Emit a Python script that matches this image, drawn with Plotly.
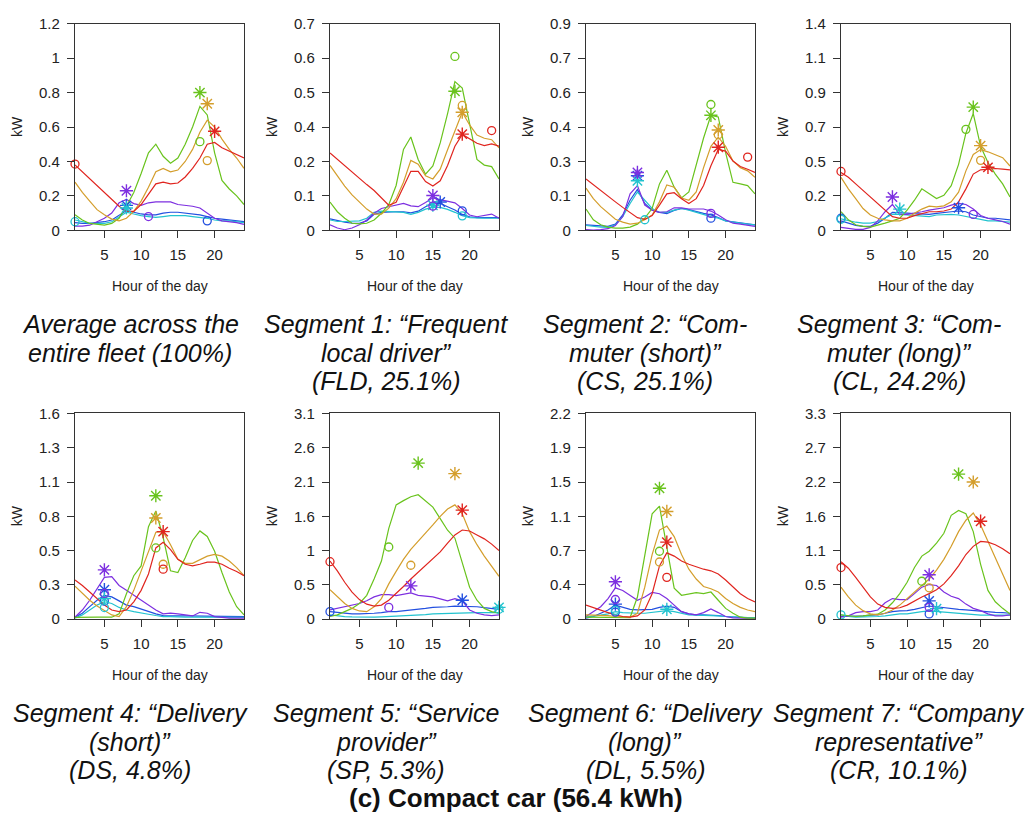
import plotly.graph_objects as go

W, H = 1031, 823
HOURS = list(range(1, 25))
SERIES = ["blue", "cyan", "purple", "green", "orange", "red"]
COLORS = {"blue": "#2350e0", "cyan": "#22c3cf", "purple": "#7d2fe0",
          "green": "#69c31d", "orange": "#d49e2c", "red": "#e0251f"}

# ---------------- data (kW per hour 1..24) ----------------
# Panel 1: fleet average
fleet_blue = [0.045,0.04,0.04,0.045,0.05,0.06,0.09,0.115,0.105,0.095,0.09,0.09,0.10,0.105,0.105,0.10,0.095,0.09,0.08,0.07,0.065,0.06,0.055,0.05]
fleet_cyan = [0.06,0.05,0.04,0.04,0.04,0.05,0.08,0.105,0.095,0.085,0.08,0.075,0.08,0.085,0.085,0.085,0.08,0.075,0.07,0.06,0.055,0.055,0.05,0.045]
fleet_purple = [0.025,0.025,0.03,0.05,0.07,0.10,0.16,0.18,0.155,0.145,0.16,0.165,0.165,0.165,0.15,0.145,0.14,0.13,0.10,0.07,0.055,0.05,0.045,0.035]
fleet_green = [0.09,0.06,0.04,0.035,0.03,0.04,0.07,0.14,0.22,0.33,0.45,0.50,0.43,0.39,0.42,0.50,0.60,0.72,0.67,0.45,0.29,0.24,0.20,0.15]
fleet_orange = [0.28,0.22,0.17,0.12,0.09,0.065,0.055,0.07,0.11,0.17,0.25,0.34,0.36,0.34,0.35,0.40,0.47,0.57,0.64,0.60,0.53,0.47,0.42,0.36]
fleet_red = [0.38,0.34,0.30,0.26,0.22,0.18,0.14,0.11,0.11,0.15,0.21,0.27,0.28,0.27,0.275,0.31,0.36,0.42,0.50,0.51,0.48,0.46,0.44,0.42]
fleet_circle_hour = [19, 1, 11, 18, 19, 1]
fleet_circle_kw = [0.055, 0.05, 0.08, 0.515, 0.405, 0.385]
fleet_star_hour = [8, 8, 8, 18, 19, 20]
fleet_star_kw = [0.145, 0.13, 0.23, 0.80, 0.735, 0.575]

# Panel 2: FLD
fld_blue = [0.039,0.033,0.028,0.024,0.024,0.032,0.054,0.061,0.063,0.063,0.063,0.059,0.065,0.08,0.091,0.091,0.08,0.069,0.054,0.046,0.043,0.043,0.043,0.043]
fld_cyan = [0.035,0.03,0.03,0.03,0.032,0.041,0.061,0.065,0.063,0.063,0.061,0.054,0.061,0.072,0.078,0.078,0.071,0.061,0.05,0.043,0.041,0.041,0.041,0.041]
fld_purple = [0.019,0.008,0.002,0.008,0.019,0.035,0.058,0.074,0.08,0.085,0.091,0.083,0.08,0.094,0.11,0.104,0.099,0.093,0.074,0.052,0.046,0.05,0.055,0.041]
fld_green = [0.096,0.063,0.041,0.024,0.022,0.024,0.035,0.058,0.087,0.152,0.274,0.316,0.24,0.19,0.218,0.296,0.395,0.504,0.482,0.362,0.24,0.221,0.216,0.174]
fld_orange = [0.22,0.185,0.15,0.12,0.095,0.072,0.055,0.055,0.075,0.107,0.163,0.237,0.224,0.185,0.174,0.207,0.273,0.34,0.40,0.357,0.323,0.312,0.307,0.279]
fld_red = [0.262,0.24,0.218,0.196,0.175,0.155,0.135,0.11,0.085,0.095,0.145,0.2,0.2,0.165,0.15,0.168,0.22,0.285,0.325,0.31,0.295,0.287,0.293,0.285]
fld_circle_hour = [19, 19, 15, 18, 19, 23]
fld_circle_kw = [0.066, 0.049, 0.082, 0.589, 0.423, 0.338]
fld_star_hour = [16, 15, 15, 18, 19, 19]
fld_star_kw = [0.096, 0.085, 0.118, 0.471, 0.40, 0.326]

# Panel 3: CS
cs_blue = [0.024,0.021,0.017,0.017,0.027,0.067,0.131,0.178,0.117,0.088,0.078,0.073,0.087,0.095,0.09,0.081,0.074,0.067,0.056,0.041,0.036,0.031,0.028,0.024]
cs_cyan = [0.021,0.017,0.014,0.013,0.024,0.06,0.117,0.167,0.131,0.095,0.078,0.078,0.088,0.095,0.088,0.078,0.07,0.06,0.053,0.041,0.036,0.03,0.027,0.024]
cs_purple = [0.003,0.001,0.003,0.007,0.021,0.06,0.159,0.195,0.11,0.088,0.078,0.081,0.098,0.098,0.093,0.093,0.093,0.084,0.067,0.046,0.031,0.027,0.021,0.017]
cs_green = [0.093,0.046,0.024,0.014,0.01,0.01,0.014,0.027,0.053,0.095,0.202,0.262,0.188,0.141,0.167,0.281,0.402,0.501,0.494,0.338,0.209,0.202,0.195,0.159]
cs_orange = [0.184,0.138,0.103,0.074,0.048,0.036,0.027,0.031,0.046,0.067,0.124,0.198,0.188,0.141,0.131,0.167,0.273,0.366,0.406,0.366,0.302,0.273,0.259,0.231]
cs_red = [0.224,0.198,0.173,0.148,0.124,0.1,0.076,0.055,0.048,0.064,0.11,0.159,0.164,0.138,0.117,0.138,0.195,0.281,0.352,0.345,0.302,0.278,0.266,0.252]
cs_circle_hour = [18, 9, 18, 18, 19, 23]
cs_circle_kw = [0.053, 0.046, 0.074, 0.548, 0.416, 0.319]
cs_star_hour = [8, 8, 8, 18, 19, 19]
cs_star_kw = [0.238, 0.216, 0.252, 0.501, 0.437, 0.362]

# Panel 4: CL
cl_blue = [0.064,0.049,0.034,0.027,0.027,0.049,0.082,0.122,0.117,0.117,0.113,0.108,0.108,0.115,0.122,0.126,0.131,0.126,0.104,0.091,0.082,0.082,0.078,0.071]
cl_cyan = [0.078,0.064,0.055,0.049,0.049,0.06,0.082,0.108,0.108,0.104,0.1,0.093,0.093,0.104,0.108,0.108,0.104,0.093,0.082,0.071,0.064,0.064,0.06,0.055]
cl_purple = [0.02,0.011,0.007,0.007,0.02,0.064,0.126,0.175,0.108,0.108,0.115,0.126,0.137,0.144,0.153,0.171,0.182,0.175,0.144,0.1,0.082,0.071,0.06,0.042]
cl_green = [0.126,0.071,0.038,0.027,0.022,0.033,0.049,0.064,0.082,0.137,0.204,0.281,0.248,0.215,0.237,0.303,0.447,0.658,0.791,0.569,0.459,0.381,0.315,0.226]
cl_orange = [0.359,0.281,0.215,0.148,0.104,0.082,0.071,0.064,0.064,0.082,0.115,0.144,0.164,0.159,0.166,0.193,0.259,0.403,0.514,0.547,0.532,0.514,0.492,0.436]
cl_red = [0.392,0.359,0.315,0.27,0.226,0.182,0.137,0.093,0.082,0.082,0.1,0.115,0.126,0.126,0.131,0.144,0.193,0.281,0.381,0.41,0.414,0.419,0.414,0.41]
cl_circle_hour = [1, 1, 19, 18, 20, 1]
cl_circle_kw = [0.082, 0.075, 0.108, 0.684, 0.474, 0.399]
cl_star_hour = [17, 9, 8, 19, 20, 21]
cl_star_kw = [0.153, 0.144, 0.226, 0.835, 0.574, 0.427]

# Panel 5: DS
ds_blue = [0.015,0.046,0.097,0.147,0.185,0.173,0.142,0.109,0.097,0.079,0.058,0.041,0.028,0.025,0.025,0.025,0.025,0.025,0.02,0.02,0.02,0.02,0.02,0.02]
ds_cyan = [0.008,0.033,0.071,0.109,0.135,0.122,0.091,0.071,0.058,0.046,0.038,0.028,0.02,0.02,0.015,0.015,0.015,0.015,0.013,0.013,0.013,0.013,0.013,0.013]
ds_purple = [0.015,0.071,0.147,0.236,0.325,0.33,0.262,0.224,0.185,0.147,0.109,0.071,0.041,0.046,0.041,0.033,0.025,0.053,0.046,0.02,0.013,0.008,0.008,0.008]
ds_green = [0.013,0.015,0.015,0.015,0.015,0.015,0.041,0.198,0.338,0.414,0.719,0.841,0.635,0.376,0.363,0.478,0.612,0.686,0.643,0.528,0.363,0.211,0.097,0.033]
ds_orange = [0.257,0.198,0.147,0.102,0.066,0.033,0.02,0.097,0.224,0.376,0.528,0.676,0.681,0.579,0.465,0.434,0.434,0.465,0.49,0.503,0.49,0.452,0.401,0.338]
ds_red = [0.305,0.262,0.211,0.16,0.109,0.071,0.058,0.071,0.135,0.224,0.351,0.554,0.597,0.541,0.465,0.427,0.414,0.427,0.444,0.444,0.427,0.396,0.371,0.338]
ds_circle_hour = [5, 5, 5, 12, 13, 13]
ds_circle_kw = [0.14, 0.09, 0.20, 0.554, 0.427, 0.389]
ds_star_hour = [5, 5, 5, 12, 12, 13]
ds_star_kw = [0.229, 0.16, 0.383, 0.96, 0.787, 0.681]

# Panel 6: SP
sp_blue = [0.113,0.098,0.089,0.079,0.079,0.079,0.089,0.098,0.113,0.113,0.123,0.138,0.148,0.162,0.177,0.177,0.187,0.197,0.197,0.197,0.187,0.172,0.162,0.148]
sp_cyan = [0.064,0.049,0.039,0.034,0.03,0.03,0.03,0.034,0.039,0.039,0.044,0.049,0.059,0.069,0.079,0.084,0.089,0.094,0.098,0.098,0.098,0.098,0.098,0.098]
sp_purple = [0.138,0.162,0.187,0.212,0.236,0.276,0.335,0.369,0.369,0.354,0.369,0.394,0.359,0.344,0.335,0.305,0.276,0.31,0.276,0.138,0.089,0.064,0.054,0.064]
sp_green = [0.039,0.064,0.113,0.162,0.236,0.359,0.605,0.876,1.368,1.722,1.786,1.845,1.875,1.786,1.688,1.515,1.34,1.22,0.83,0.48,0.285,0.162,0.113,0.089]
sp_orange = [0.443,0.335,0.236,0.162,0.123,0.113,0.187,0.31,0.531,0.72,0.9,1.05,1.17,1.29,1.42,1.55,1.66,1.722,1.589,1.319,1.122,0.95,0.802,0.645]
sp_red = [0.876,0.728,0.556,0.408,0.295,0.226,0.197,0.212,0.285,0.384,0.492,0.605,0.704,0.802,0.9,1.013,1.146,1.269,1.343,1.328,1.269,1.21,1.131,1.033]
sp_circle_hour = [1, 24, 9, 9, 12, 1]
sp_circle_kw = [0.113, 0.15, 0.177, 1.087, 0.812, 0.866]
sp_star_hour = [19, 24, 12, 13, 18, 19]
sp_star_kw = [0.285, 0.177, 0.502, 2.352, 2.194, 1.643]

# Panel 7: DL
dl_blue = [0.01,0.028,0.063,0.098,0.15,0.126,0.105,0.098,0.098,0.105,0.126,0.14,0.126,0.08,0.056,0.045,0.045,0.045,0.038,0.028,0.021,0.017,0.014,0.014]
dl_cyan = [0.021,0.028,0.042,0.056,0.08,0.07,0.063,0.063,0.063,0.07,0.08,0.091,0.08,0.063,0.045,0.042,0.042,0.038,0.035,0.028,0.021,0.021,0.017,0.017]
dl_purple = [0.028,0.08,0.133,0.22,0.335,0.307,0.255,0.202,0.237,0.286,0.272,0.22,0.15,0.08,0.056,0.045,0.07,0.108,0.07,0.028,0.014,0.01,0.007,0.007]
dl_green = [0.021,0.021,0.021,0.017,0.017,0.014,0.017,0.237,0.691,1.127,1.208,0.761,0.332,0.255,0.272,0.283,0.272,0.29,0.202,0.115,0.063,0.021,0.01,0.01]
dl_orange = [0.045,0.045,0.045,0.038,0.028,0.021,0.021,0.063,0.342,0.691,0.953,0.995,0.883,0.691,0.534,0.429,0.349,0.325,0.29,0.22,0.168,0.126,0.098,0.08]
dl_red = [0.15,0.126,0.098,0.07,0.045,0.028,0.021,0.035,0.098,0.272,0.569,0.709,0.674,0.621,0.587,0.559,0.534,0.517,0.482,0.419,0.342,0.272,0.22,0.185]
dl_circle_hour = [5, 5, 5, 11, 11, 12]
dl_circle_kw = [0.075, 0.094, 0.21, 0.726, 0.611, 0.447]
dl_star_hour = [5, 12, 5, 11, 12, 12]
dl_star_kw = [0.16, 0.105, 0.40, 1.40, 1.152, 0.824]

# Panel 8: CR
cr_blue = [0.042,0.042,0.042,0.052,0.063,0.068,0.094,0.12,0.131,0.136,0.157,0.183,0.21,0.199,0.183,0.168,0.157,0.147,0.136,0.12,0.115,0.11,0.105,0.094]
cr_cyan = [0.068,0.042,0.031,0.031,0.031,0.042,0.052,0.068,0.084,0.084,0.105,0.12,0.131,0.12,0.11,0.1,0.084,0.073,0.068,0.063,0.063,0.063,0.063,0.063]
cr_purple = [0.031,0.052,0.105,0.12,0.12,0.147,0.262,0.33,0.314,0.314,0.409,0.513,0.555,0.54,0.435,0.367,0.33,0.241,0.173,0.136,0.084,0.052,0.052,0.068]
cr_green = [0.068,0.052,0.042,0.052,0.068,0.079,0.147,0.262,0.409,0.592,0.828,1.011,1.09,1.22,1.378,1.666,1.744,1.692,1.404,0.88,0.461,0.278,0.173,0.084]
cr_orange = [0.513,0.356,0.225,0.136,0.084,0.068,0.094,0.147,0.225,0.33,0.435,0.54,0.644,0.786,0.959,1.168,1.404,1.587,1.702,1.509,1.247,0.985,0.723,0.461]
cr_red = [0.922,0.817,0.67,0.513,0.356,0.241,0.189,0.173,0.183,0.225,0.293,0.356,0.409,0.471,0.566,0.697,0.854,1.037,1.168,1.247,1.236,1.194,1.131,1.048]
cr_circle_hour = [13, 1, 13, 12, 13, 1]
cr_circle_kw = [0.084, 0.068, 0.189, 0.608, 0.503, 0.828]
cr_star_hour = [13, 14, 13, 17, 19, 20]
cr_star_kw = [0.293, 0.168, 0.712, 2.326, 2.20, 1.571]

y_max = [1.2, 0.7, 0.9, 1.4, 1.6, 3.1, 2.2, 3.3]
y_tick_labels = [
    ["0", "0.2", "0.4", "0.6", "0.8", "1", "1.2"],
    ["0", "0.1", "0.2", "0.4", "0.5", "0.6", "0.7"],
    ["0", "0.1", "0.3", "0.4", "0.6", "0.7", "0.9"],
    ["0", "0.2", "0.5", "0.7", "0.9", "1.1", "1.4"],
    ["0", "0.3", "0.5", "0.8", "1.1", "1.3", "1.6"],
    ["0", "0.5", "1", "1.6", "2.1", "2.6", "3.1"],
    ["0", "0.4", "0.7", "1.1", "1.5", "1.9", "2.2"],
    ["0", "0.5", "1.1", "1.6", "2.2", "2.7", "3.3"],
]
x_ticks = [5, 10, 15, 20]

captions = [
    ["Average across the", "entire fleet (100%)"],
    ["Segment 1: \u201cFrequent", "local driver\u201d", "(FLD, 25.1%)"],
    ["Segment 2: \u201cCom-", "muter (short)\u201d", "(CS, 25.1%)"],
    ["Segment 3: \u201cCom-", "muter (long)\u201d", "(CL, 24.2%)"],
    ["Segment 4: \u201cDelivery", "(short)\u201d", "(DS, 4.8%)"],
    ["Segment 5: \u201cService", "provider\u201d", "(SP, 5.3%)"],
    ["Segment 6: \u201cDelivery", "(long)\u201d", "(DL, 5.5%)"],
    ["Segment 7: \u201cCompany", "representative\u201d", "(CR, 10.1%)"],
]
figure_title = "(c) Compact car (56.4 kWh)"

panels = [
    ([fleet_blue, fleet_cyan, fleet_purple, fleet_green, fleet_orange, fleet_red],
     fleet_circle_hour, fleet_circle_kw, fleet_star_hour, fleet_star_kw),
    ([fld_blue, fld_cyan, fld_purple, fld_green, fld_orange, fld_red],
     fld_circle_hour, fld_circle_kw, fld_star_hour, fld_star_kw),
    ([cs_blue, cs_cyan, cs_purple, cs_green, cs_orange, cs_red],
     cs_circle_hour, cs_circle_kw, cs_star_hour, cs_star_kw),
    ([cl_blue, cl_cyan, cl_purple, cl_green, cl_orange, cl_red],
     cl_circle_hour, cl_circle_kw, cl_star_hour, cl_star_kw),
    ([ds_blue, ds_cyan, ds_purple, ds_green, ds_orange, ds_red],
     ds_circle_hour, ds_circle_kw, ds_star_hour, ds_star_kw),
    ([sp_blue, sp_cyan, sp_purple, sp_green, sp_orange, sp_red],
     sp_circle_hour, sp_circle_kw, sp_star_hour, sp_star_kw),
    ([dl_blue, dl_cyan, dl_purple, dl_green, dl_orange, dl_red],
     dl_circle_hour, dl_circle_kw, dl_star_hour, dl_star_kw),
    ([cr_blue, cr_cyan, cr_purple, cr_green, cr_orange, cr_red],
     cr_circle_hour, cr_circle_kw, cr_star_hour, cr_star_kw),
]

# ---------------- layout geometry (pixels) ----------------
col_left = [75, 330, 586, 841]
col_width = 169
row_top = [15, 413]
row_bottom = [226, 623]
col_center = [130, 386, 645, 899]
caption_top = [322, 719]
line_gap = 29
FONT = "Liberation Sans, Arial, Helvetica, sans-serif"


def xp(px):
    return px / W


def yp(py):
    return 1 - py / H


fig = go.Figure()
annotations = []
layout_axes = {}

for i, (lines, ch, ck, sh, sk) in enumerate(panels):
    r, c = divmod(i, 4)
    n = i + 1
    xa = "x" if n == 1 else f"x{n}"
    ya = "y" if n == 1 else f"y{n}"
    for s, vals in zip(SERIES, lines):
        fig.add_trace(go.Scatter(x=HOURS, y=vals, mode="lines", xaxis=xa, yaxis=ya,
                                 line=dict(color=COLORS[s], width=1.2),
                                 showlegend=False, hoverinfo="skip"))
    for k, s in enumerate(SERIES):
        fig.add_trace(go.Scatter(x=[ch[k]], y=[ck[k]], mode="markers", xaxis=xa, yaxis=ya,
                                 marker=dict(symbol="circle-open", size=8, color=COLORS[s],
                                             line=dict(width=1.3, color=COLORS[s])),
                                 showlegend=False, hoverinfo="skip", cliponaxis=False))
        fig.add_trace(go.Scatter(x=[sh[k]], y=[sk[k]], mode="markers", xaxis=xa, yaxis=ya,
                                 marker=dict(symbol="asterisk-open", size=11, color=COLORS[s],
                                             line=dict(width=1.4, color=COLORS[s])),
                                 showlegend=False, hoverinfo="skip", cliponaxis=False))

    ymax = y_max[i]
    tv = [ymax * j / 6 for j in range(7)]
    common = dict(showline=True, mirror=True, linecolor="#333", linewidth=1.2,
                  ticks="outside", ticklen=7, tickcolor="#333", tickwidth=1,
                  showgrid=False, zeroline=False, ticklabelstandoff=4,
                  tickfont=dict(family=FONT, size=15, color="#222"))
    xkey = "xaxis" if n == 1 else f"xaxis{n}"
    ykey = "yaxis" if n == 1 else f"yaxis{n}"
    layout_axes[xkey] = dict(common, domain=[xp(col_left[c]), xp(col_left[c] + col_width)],
                             anchor=ya, range=[1, 24], tickvals=x_ticks)
    layout_axes[ykey] = dict(common, domain=[yp(row_bottom[r]), yp(row_top[r])],
                             anchor=xa, range=[0, ymax], tickvals=tv, ticktext=y_tick_labels[i])

    # axis titles
    annotations.append(dict(text="kW", xref="paper", yref="paper",
                            x=xp(col_left[c] - 58), y=yp((row_top[r] + row_bottom[r]) / 2),
                            textangle=-90, showarrow=False, xanchor="center", yanchor="middle",
                            font=dict(family=FONT, size=14, color="#222")))
    annotations.append(dict(text="Hour of the day", xref="paper", yref="paper",
                            x=xp(col_left[c] + col_width / 2), y=yp(row_bottom[r] + 57),
                            showarrow=False, xanchor="center", yanchor="middle",
                            font=dict(family=FONT, size=14, color="#222")))
    # caption
    for j, line in enumerate(captions[i]):
        annotations.append(dict(text=f"<i>{line}</i>", xref="paper", yref="paper",
                                x=xp(col_center[c]), y=yp(caption_top[r] + j * line_gap),
                                showarrow=False, xanchor="center", yanchor="middle",
                                font=dict(family=FONT, size=25, color="#111")))

annotations.append(dict(text=f"<b>{figure_title}</b>", xref="paper", yref="paper",
                        x=xp(516), y=yp(806), showarrow=False, xanchor="center", yanchor="middle",
                        font=dict(family=FONT, size=26, color="#111")))

fig.update_layout(width=W, height=H, margin=dict(l=0, r=0, t=0, b=0),
                  paper_bgcolor="white", plot_bgcolor="white",
                  annotations=annotations, **layout_axes)

fig.write_html("out.html", config={"displayModeBar": False},
               post_script="document.body.style.margin='0px';")
